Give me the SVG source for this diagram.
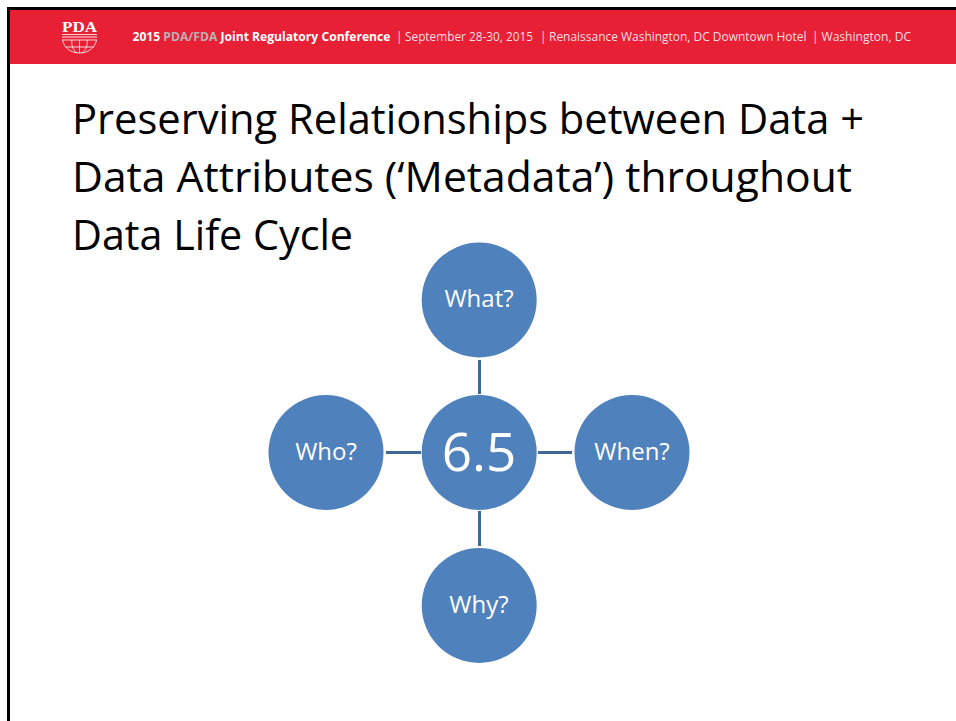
<svg xmlns="http://www.w3.org/2000/svg" width="956" height="721" viewBox="0 0 956 721">
<style>
text{font-family:"Open Sans","Noto Sans","Liberation Sans",sans-serif;font-variant-ligatures:none}
.t{font-size:41.500px;fill:#000}
.n{fill:#4f81bd}
.l{font-size:24px;fill:#fff;text-anchor:middle}
.c{stroke:#3f6797;stroke-width:3;fill:none}
.h{font-size:12px;fill:#fbdfe3}
.b{font-weight:700;fill:#fff}
.g{font-weight:700;fill:#b9b2b4}
.w{stroke:#fff;fill:none;stroke-width:.8}
</style>
<rect width="956" height="721" fill="#fff"/>
<rect x="10" y="10" width="946" height="54" fill="#e82035"/>
<path d="M8.500 721V8.500H956" fill="none" stroke="#000" stroke-width="3"/>
<g id="logo">
<text x="79.500" y="32.300" text-anchor="middle" textLength="35" lengthAdjust="spacingAndGlyphs" style="font-family:'Liberation Serif',serif;font-weight:700;font-size:15px;fill:#fff">PDA</text>
<path class="w" d="M62 34.500H97"/>
<path d="M62 37H97" stroke="#fff" stroke-width="1.500" opacity=".6"/>
<path class="w" d="M62 40H97M62.500 40C64 48 71 53 79.500 53S95 48 96.500 40M65 47H94M79.500 40V53M72 40C71 45 73 50 77 53M87 40C88 45 86 50 82 53"/>
</g>
<g id="header" class="h">
<text x="132.500" y="41" textLength="258" lengthAdjust="spacingAndGlyphs" class="h"><tspan class="b">2015 </tspan><tspan class="g">PDA/FDA</tspan><tspan class="b"> Joint Regulatory Conference</tspan></text>
<text x="396" y="41" class="h">|</text>
<text x="405" y="41" textLength="128" lengthAdjust="spacingAndGlyphs" class="h">September 28-30, 2015</text>
<text x="540" y="41" class="h">|</text>
<text x="549" y="41" textLength="257.500" lengthAdjust="spacingAndGlyphs" class="h">Renaissance Washington, DC Downtown Hotel</text>
<text x="812" y="41" class="h">|</text>
<text x="821.500" y="41" textLength="89.500" lengthAdjust="spacingAndGlyphs" class="h">Washington, DC</text>
</g>
<g id="title">
<text x="72" y="134" textLength="792" lengthAdjust="spacingAndGlyphs" class="t">Preserving Relationships between Data +</text>
<text x="72" y="192" textLength="780" lengthAdjust="spacingAndGlyphs" class="t">Data Attributes (‘Metadata’) throughout</text>
<text x="72" y="250" textLength="281" lengthAdjust="spacingAndGlyphs" class="t">Data Life Cycle</text>
</g>
<g id="connectors" class="c">
<path d="M479.500 360V394"/>
<path d="M479.500 511V546"/>
<path d="M386 452.500H421"/>
<path d="M538 452.500H572"/>
</g>
<g id="node-center"><circle class="n" cx="479.200" cy="452.500" r="57.500"/><text x="479" y="470.500" class="l" style="font-size:53px">6.5</text></g>
<g id="node-what"><circle class="n" cx="479.200" cy="300" r="57.500"/><text x="479" y="307" class="l">What?</text></g>
<g id="node-who"><circle class="n" cx="326" cy="452.500" r="57.500"/><text x="326" y="460" class="l">Who?</text></g>
<g id="node-when"><circle class="n" cx="632" cy="452.500" r="57.500"/><text x="632" y="460" class="l">When?</text></g>
<g id="node-why"><circle class="n" cx="479.200" cy="605.500" r="57.500"/><text x="479" y="613" class="l">Why?</text></g>
</svg>
